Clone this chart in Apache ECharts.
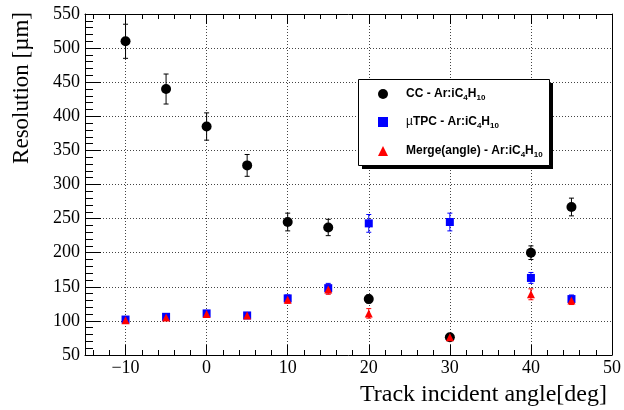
<!DOCTYPE html>
<html>
<head>
<meta charset="utf-8">
<script src="https://cdn.jsdelivr.net/npm/echarts@6/dist/echarts.min.js"></script>
<style>html,body{margin:0;padding:0;background:#fff}#c{width:624px;height:410px}</style>
</head>
<body>
<div id="c"></div>
<script>
// ---- data ----
const angles = [-10, -5, 0, 5, 10, 15, 20, 30, 40, 45];
const ccRes = [510, 440, 385, 328, 245, 237, 132, 76, 200, 267];
const ccErr = [25, 22, 20, 16, 13, 12, 6, 4, 10, 13];
const tpcRes = [102, 106, 111, 108, 133, 148, 243, 245, 163, 132];
const tpcErr = [3, 3, 3, 3, 5, 7, 13, 13, 8, 6];
const mergeRes = [101, 105, 110, 108, 131, 146, 111, 76, 139, 130];
const mergeErr = [3, 3, 3, 3, 5, 7, 7, 4, 8, 6];
const seriesNames = ['CC', 'uTPC', 'Merge'];
const xTitle = 'Track incident angle[deg]';
const yTitle = 'Resolution [\u00b5m]';

const chart = echarts.init(document.getElementById('c'), null, {renderer: 'canvas'});
const serif = 'Liberation Serif, Times New Roman, serif';
const sans = 'Liberation Sans, Arial, sans-serif';

function pts(ys) { return angles.map((a, i) => [a, ys[i]]); }
function errs(ys, es) { return angles.map((a, i) => [a, ys[i] - es[i], ys[i] + es[i]]); }
function errSeries(ys, es, color) {
  return {
    type: 'custom', data: errs(ys, es), encode: {x: 0, y: [1, 2]}, z: 2, silent: true,
    renderItem: function (params, api) {
      const lo = api.coord([api.value(0), api.value(1)]);
      const hi = api.coord([api.value(0), api.value(2)]);
      const st = {stroke: color, lineWidth: 1};
      const c = 2.5;
      return {type: 'group', children: [
        {type: 'line', shape: {x1: lo[0], y1: lo[1], x2: hi[0], y2: hi[1]}, style: st},
        {type: 'line', shape: {x1: lo[0] - c, y1: lo[1], x2: lo[0] + c, y2: lo[1]}, style: st},
        {type: 'line', shape: {x1: hi[0] - c, y1: hi[1], x2: hi[0] + c, y2: hi[1]}, style: st}
      ]};
    }
  };
}

const richBase = {
  m: {fontFamily: sans, fontWeight: 'bold', fontSize: 12, color: '#000', lineHeight: 16, verticalAlign: 'middle'},
  s: {fontFamily: sans, fontWeight: 'bold', fontSize: 8, color: '#000', lineHeight: 16, verticalAlign: 'bottom'},
  u: {fontFamily: sans, fontWeight: 'normal', fontSize: 12, color: '#000', lineHeight: 16, verticalAlign: 'middle'}
};
const legendText = {
  'CC': '{m|CC - Ar:iC}{s|4}{m|H}{s|10}',
  'uTPC': '{u|\u00b5}{m|TPC - Ar:iC}{s|4}{m|H}{s|10}',
  'Merge': '{m|Merge(angle) - Ar:iC}{s|4}{m|H}{s|10}'
};
const legendTops = [88, 116, 145];

function legendFor(i) {
  return {
    data: [seriesNames[i]], left: 378, top: legendTops[i], orient: 'vertical', z: 100, zlevel: 0,
    itemWidth: 10, itemHeight: 10, itemGap: 0, padding: 0, selectedMode: false,
    formatter: n => legendText[n],
    textStyle: {rich: richBase, padding: [0, 0, 0, 13]}
  };
}

const xLabelFmt = v => (v === -15 ? '' : (v < 0 ? '\u2212' + (-v) : String(v)));

chart.setOption({
  animation: false,
  backgroundColor: '#fff',
  grid: {left: 85, right: 11, top: 14, bottom: 55, containLabel: false},
  legend: [legendFor(0), legendFor(1), legendFor(2)],
  graphic: [
    {type: 'rect', shape: {x: 362, y: 83, width: 191, height: 86}, style: {fill: '#000'}, z: 10},
    {type: 'rect', shape: {x: 358.5, y: 79.5, width: 191, height: 86}, style: {fill: '#fff', stroke: '#000', lineWidth: 1}, z: 11},
    {type: 'text', right: 17, top: 383, style: {text: xTitle, font: '24px ' + serif, fill: '#000'}, z: 5},
    {type: 'text', left: 10, top: 12, rotation: Math.PI / 2, style: {text: yTitle, font: '23px ' + serif, fill: '#000', align: 'right', verticalAlign: 'top'}, z: 5, originX: 0, originY: 0}
  ],
  xAxis: [
    {
      type: 'value', min: -15, max: 50, position: 'bottom',
      axisLine: {show: true, onZero: false, lineStyle: {color: '#000', width: 1}},
      axisTick: {show: true, inside: true, length: 10, lineStyle: {color: '#000'}},
      minorTick: {show: true, splitNumber: 5, length: 5, lineStyle: {color: '#000'}},
      axisLabel: {formatter: xLabelFmt, fontFamily: serif, fontSize: 18, color: '#000', margin: 4, showMinLabel: false},
      splitLine: {show: true, lineStyle: {color: '#444', type: [1, 2], width: 1}},
      minorSplitLine: {show: false}
    },
    {
      type: 'value', min: -15, max: 50, position: 'top',
      axisLine: {show: true, onZero: false, lineStyle: {color: '#000', width: 1}},
      axisTick: {show: true, inside: true, length: 10, lineStyle: {color: '#000'}},
      minorTick: {show: true, splitNumber: 5, length: 5, lineStyle: {color: '#000'}},
      axisLabel: {show: false}, splitLine: {show: false}
    }
  ],
  yAxis: [
    {
      type: 'value', min: 50, max: 550, interval: 50, position: 'left',
      axisLine: {show: true, onZero: false, lineStyle: {color: '#000', width: 1}},
      axisTick: {show: true, inside: true, length: 16, lineStyle: {color: '#000'}},
      minorTick: {show: true, splitNumber: 5, length: 8, lineStyle: {color: '#000'}},
      axisLabel: {fontFamily: serif, fontSize: 18, color: '#000', margin: 5},
      splitLine: {show: true, lineStyle: {color: '#444', type: [1, 2], width: 1}}
    },
    {
      type: 'value', min: 50, max: 550, interval: 50, position: 'right',
      axisLine: {show: true, onZero: false, lineStyle: {color: '#000', width: 1}},
      axisTick: {show: false}, axisLabel: {show: false}, splitLine: {show: false}
    }
  ],
  series: [
    errSeries(ccRes, ccErr, '#000'),
    errSeries(tpcRes, tpcErr, '#0000ff'),
    errSeries(mergeRes, mergeErr, '#ff0000'),
    {name: 'CC', type: 'scatter', data: pts(ccRes), symbol: 'circle', symbolSize: 10, itemStyle: {color: '#000', opacity: 1}, z: 3},
    {name: 'uTPC', type: 'scatter', data: pts(tpcRes), symbol: 'rect', symbolSize: 8, itemStyle: {color: '#0000ff', opacity: 1}, z: 4},
    {name: 'Merge', type: 'scatter', data: pts(mergeRes), symbol: 'triangle', symbolSize: 8, itemStyle: {color: '#ff0000', opacity: 1}, z: 5}
  ]
});
</script>
</body>
</html>
